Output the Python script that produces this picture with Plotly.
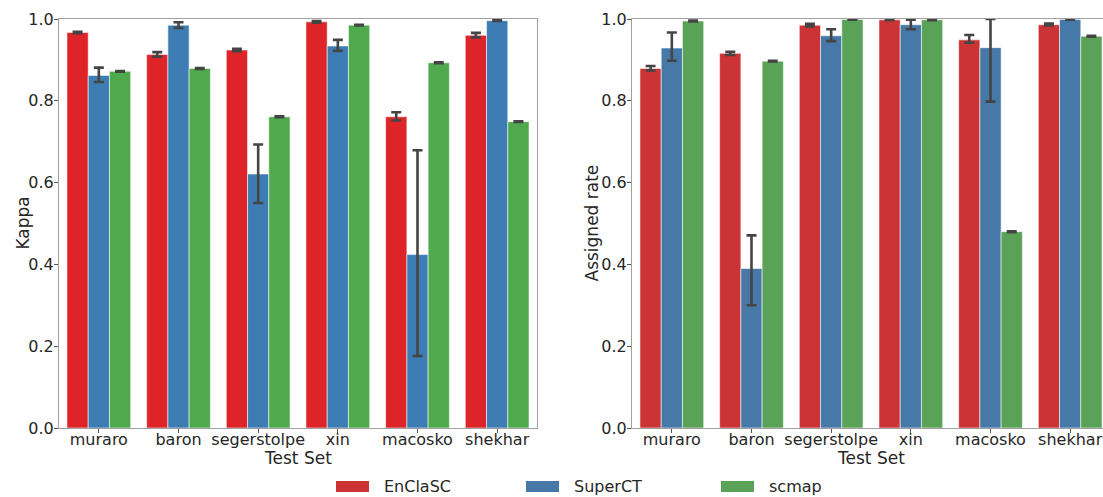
import plotly.graph_objects as go

categories = ["muraro", "baron", "segerstolpe", "xin", "macosko", "shekhar"]
methods = ["EnClaSC", "SuperCT", "scmap"]

# Kappa (left panel): mean, lower CI, upper CI
kappa_enclasc = [0.967, 0.913, 0.924, 0.993, 0.761, 0.960]
kappa_enclasc_lo = [0.965, 0.908, 0.921, 0.991, 0.752, 0.955]
kappa_enclasc_hi = [0.969, 0.919, 0.927, 0.995, 0.772, 0.966]

kappa_superct = [0.862, 0.985, 0.621, 0.934, 0.424, 0.996]
kappa_superct_lo = [0.846, 0.978, 0.550, 0.922, 0.176, 0.995]
kappa_superct_hi = [0.881, 0.992, 0.693, 0.949, 0.679, 0.998]

kappa_scmap = [0.872, 0.879, 0.761, 0.985, 0.893, 0.749]
kappa_scmap_lo = [0.871, 0.878, 0.760, 0.984, 0.892, 0.748]
kappa_scmap_hi = [0.873, 0.880, 0.762, 0.986, 0.894, 0.750]

# Assigned rate (right panel)
rate_enclasc = [0.879, 0.916, 0.985, 0.998, 0.949, 0.986]
rate_enclasc_lo = [0.874, 0.912, 0.982, 0.997, 0.942, 0.984]
rate_enclasc_hi = [0.885, 0.920, 0.988, 0.999, 0.961, 0.989]

rate_superct = [0.929, 0.390, 0.959, 0.986, 0.930, 0.999]
rate_superct_lo = [0.898, 0.300, 0.946, 0.975, 0.798, 0.998]
rate_superct_hi = [0.967, 0.471, 0.975, 0.998, 1.000, 1.000]

rate_scmap = [0.995, 0.897, 0.999, 0.998, 0.480, 0.958]
rate_scmap_lo = [0.994, 0.896, 0.998, 0.997, 0.479, 0.957]
rate_scmap_hi = [0.996, 0.898, 1.000, 0.999, 0.481, 0.959]

y_ticks = [0.0, 0.2, 0.4, 0.6, 0.8, 1.0]

left_colors = ["#de2428", "#3d7db4", "#4eaa4c"]
right_colors = ["#cb3335", "#4679a8", "#59a258"]

W, H = 1103, 497
FONT = "DejaVu Sans"
TXT = "#262626"

fig = go.Figure()

def add_series(vals, lo, hi, color, xa, ya, name):
    fig.add_trace(go.Bar(
        x=categories, y=vals, name=name, showlegend=False,
        xaxis=xa, yaxis=ya,
        marker=dict(color=color, line=dict(color="rgba(255,255,255,0.55)", width=1)),
        error_y=dict(type="data", symmetric=False,
                     array=[h - v for h, v in zip(hi, vals)],
                     arrayminus=[v - l for v, l in zip(vals, lo)],
                     color="#444444", thickness=2.6, width=5),
    ))

left_data = [(kappa_enclasc, kappa_enclasc_lo, kappa_enclasc_hi),
             (kappa_superct, kappa_superct_lo, kappa_superct_hi),
             (kappa_scmap, kappa_scmap_lo, kappa_scmap_hi)]
right_data = [(rate_enclasc, rate_enclasc_lo, rate_enclasc_hi),
              (rate_superct, rate_superct_lo, rate_superct_hi),
              (rate_scmap, rate_scmap_lo, rate_scmap_hi)]

for (v, l, h), c, m in zip(left_data, left_colors, methods):
    add_series(v, l, h, c, "x", "y", m)
for (v, l, h), c, m in zip(right_data, right_colors, methods):
    add_series(v, l, h, c, "x2", "y2", m)

L0, L1 = 59, 537
R0 = 632
TOP, BOT = 19, 428
unit = (L1 - L0) / 6.0

ydom = [(H - BOT) / H, (H - TOP) / H]

axis_common = dict(
    showgrid=False, zeroline=False, showline=True, linecolor="#a0a0a0", linewidth=1.2,
    ticks="outside", ticklen=4, tickwidth=1, tickcolor="#555555", automargin=False,
    tickfont=dict(family=FONT, size=16, color=TXT),
)

fig.update_layout(
    template="none",
    width=W, height=H,
    margin=dict(l=0, r=0, t=0, b=0, pad=0, autoexpand=False),
    paper_bgcolor="white", plot_bgcolor="white",
    barmode="group", bargap=0.2, bargroupgap=0,
    showlegend=False,
    xaxis=dict(domain=[L0 / W, L1 / W], anchor="y", range=[-0.5, 5.5],
               mirror=True, ticklabelstandoff=-7, **axis_common),
    yaxis=dict(domain=ydom, anchor="x", range=[0, 1.0], tickvals=y_ticks,
               tickformat=".1f", mirror=True, ticklabelstandoff=-3, **axis_common),
    xaxis2=dict(domain=[R0 / W, 1.0], anchor="y2",
                range=[-0.5, -0.5 + (W - R0) / unit],
                mirror=True, ticklabelstandoff=-7, **axis_common),
    yaxis2=dict(domain=ydom, anchor="x2", range=[0, 1.0], tickvals=y_ticks,
                tickformat=".1f", mirror=False, ticklabelstandoff=-3, **axis_common),
)

annotations = []
# axis titles
annotations.append(dict(text="Test Set", x=(L0 + L1) / 2 / W, y=(H - 458) / H,
                        xref="paper", yref="paper", showarrow=False,
                        font=dict(family=FONT, size=17, color=TXT),
                        xanchor="center", yanchor="middle"))
annotations.append(dict(text="Test Set", x=(R0 + R0 + 6 * unit) / 2 / W, y=(H - 458) / H,
                        xref="paper", yref="paper", showarrow=False,
                        font=dict(family=FONT, size=17, color=TXT),
                        xanchor="center", yanchor="middle"))
annotations.append(dict(text="Kappa", x=22 / W, y=(H - 223.5) / H,
                        xref="paper", yref="paper", showarrow=False, textangle=-90,
                        font=dict(family=FONT, size=17, color=TXT),
                        xanchor="center", yanchor="middle"))
annotations.append(dict(text="Assigned rate", x=591 / W, y=(H - 223.5) / H,
                        xref="paper", yref="paper", showarrow=False, textangle=-90,
                        font=dict(family=FONT, size=17, color=TXT),
                        xanchor="center", yanchor="middle"))

# manual legend
shapes = []
leg_x = [336, 526, 721]
for lx, c, m in zip(leg_x, right_colors, methods):
    shapes.append(dict(type="rect", xref="paper", yref="paper",
                       x0=lx / W, x1=(lx + 33) / W,
                       y0=(H - 492) / H, y1=(H - 481) / H,
                       fillcolor=c, line=dict(width=0)))
    annotations.append(dict(text=m, x=(lx + 46) / W, y=(H - 486.5) / H,
                            xref="paper", yref="paper", showarrow=False,
                            font=dict(family=FONT, size=16, color=TXT),
                            xanchor="left", yanchor="middle"))

fig.update_layout(annotations=annotations, shapes=shapes)

fig.write_html("out.html")
